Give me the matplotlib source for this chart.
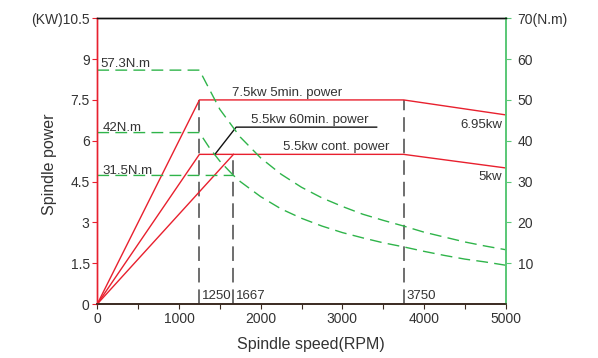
import matplotlib
matplotlib.use("Agg")
import matplotlib.pyplot as plt

plt.rcParams['font.family'] = ['Liberation Sans', 'DejaVu Sans']
plt.rcParams['lines.scale_dashes'] = False

# ---- data ----
# power curves (speed rpm, power kW)
p_max_speed = [0, 1250, 3750, 5000]
p_max_power = [0, 7.5, 7.5, 6.95]
p_cont_speed = [0, 1250, 3750, 5000]
p_cont_power = [0, 5.5, 5.5, 5.0]
p_60_speed = [0, 1667]
p_60_power = [0, 5.5]

# torque curves (speed rpm, torque N.m)
t_max_speed = [0, 1250, 1500, 1750, 2000, 2250, 2500, 2750, 3000, 3250, 3500,
               3750, 4000, 4250, 4500, 4750, 5000]
t_max_torque = [57.3, 57.3, 47.7, 40.9, 35.8, 31.8, 28.6, 26.0, 23.9, 22.0, 20.5,
                19.1, 17.6, 16.4, 15.2, 14.2, 13.3]
t_60_speed = [0, 1250, 1375, 1500, 1667]
t_60_torque = [42.0, 42.0, 38.2, 35.0, 31.5]
t_cont_speed = [0, 1667, 1750, 2000, 2250, 2500, 2750, 3000, 3250, 3500,
                3750, 4000, 4250, 4500, 4750, 5000]
t_cont_torque = [31.5, 31.5, 30.0, 26.3, 23.3, 21.0, 19.1, 17.5, 16.2, 15.0,
                 14.0, 12.9, 11.9, 11.0, 10.3, 9.5]

# leader line for 60min label
lead_speed = [1440, 1700, 3420]
lead_power = [5.5, 6.5, 6.5]

# vertical markers (speed, top power)
v_speeds = [1250, 1667, 3750]
v_tops = [7.5, 5.5, 7.5]
v_labels = ['1250', '1667', '3750']

x_ticks = [0, 1000, 2000, 3000, 4000, 5000]
y_ticks = [0, 1.5, 3, 4.5, 6, 7.5, 9, 10.5]
y_ticklabels = ['0', '1.5', '3', '4.5', '6', '7.5', '9', '(KW)10.5']
r_ticks = [10, 20, 30, 40, 50, 60, 70]
r_ticklabels = ['10', '20', '30', '40', '50', '60', '70(N.m)']

RED = '#e8202e'
GREEN = '#2fb44a'
GREEN_SPINE = '#5cc878'
GRAY = '#555555'
TXT = '#333333'

fig = plt.figure(figsize=(5.98, 3.58), dpi=100)
ax = fig.add_axes([0.1627, 0.1508, 0.6830, 0.7981])
ax2 = ax.twinx()

ax.set_xlim(0, 5000)
ax.set_ylim(0, 10.5)
ax2.set_ylim(0, 70)

# power lines
for xs, ys in [(p_max_speed, p_max_power), (p_cont_speed, p_cont_power), (p_60_speed, p_60_power)]:
    ax.plot(xs, ys, color=RED, lw=1.0, zorder=3, clip_on=False)

ax.plot(lead_speed, lead_power, color='#111111', lw=1.0, zorder=3)

# vertical dashed lines
for s, t in zip(v_speeds, v_tops):
    ax.plot([s, s], [0, t], color=GRAY, lw=1.2, linestyle=(0, (10.5, 5.0)), zorder=2)
for s, lab in zip(v_speeds, v_labels):
    ax.text(s + 30, 0.3, lab, fontsize=9.5, color=TXT, ha='left', va='center')

# torque lines
for xs, ys in [(t_max_speed, t_max_torque), (t_60_speed, t_60_torque), (t_cont_speed, t_cont_torque)]:
    ax2.plot(xs, ys, color=GREEN, lw=1.0, linestyle=(0, (8.5, 4.5)), zorder=2)

# annotations
fs = 9.5
ax.text(40, 8.6, '57.3N.m', fontsize=fs, color=TXT, ha='left', va='bottom')
ax.text(60, 6.25, '42N.m', fontsize=fs, color=TXT, ha='left', va='bottom')
ax.text(60, 4.67, '31.5N.m', fontsize=fs, color=TXT, ha='left', va='bottom')
ax.text(1650, 7.52, '7.5kw 5min. power', fontsize=fs, color=TXT, ha='left', va='bottom')
ax.text(1880, 6.55, '5.5kw 60min. power', fontsize=fs, color=TXT, ha='left', va='bottom')
ax.text(2270, 5.55, '5.5kw cont. power', fontsize=fs, color=TXT, ha='left', va='bottom')
ax.text(4960, 6.57, '6.95kw', fontsize=fs, color=TXT, ha='right', va='center')
ax.text(4960, 4.66, '5kw', fontsize=fs, color=TXT, ha='right', va='center')

# axes styling
ax.set_xticks(x_ticks)
ax.set_xticks([500, 1500, 2500, 3500, 4500], minor=True)
ax.set_yticks(y_ticks)
ax.set_yticklabels(y_ticklabels)
ax2.set_yticks(r_ticks)
ax2.set_yticklabels(r_ticklabels)

ax.tick_params(axis='x', which='both', direction='out', length=3.5, width=0.8,
               colors='#3a2a20', labelcolor=TXT, labelsize=10, pad=2)
ax.tick_params(axis='y', direction='out', length=3.5, width=0.8, color=RED,
               labelcolor=TXT, labelsize=10, pad=2)
ax2.tick_params(axis='y', direction='out', length=3.5, width=0.8, color=GREEN_SPINE,
                labelcolor=TXT, labelsize=10, pad=5)

for a in (ax, ax2):
    a.spines['left'].set_color(RED)
    a.spines['right'].set_color(GREEN_SPINE)
    a.spines['top'].set_color('#111111')
    a.spines['bottom'].set_color('#3a2a20')
    a.spines['left'].set_linewidth(1.0)
    a.spines['right'].set_linewidth(1.3)
    a.spines['top'].set_linewidth(1.0)
    a.spines['bottom'].set_linewidth(1.2)

ax.set_xlabel('Spindle speed(RPM)', fontsize=11.5, color=TXT)
ax.xaxis.set_label_coords(0.522, -0.115)
ax.set_ylabel('Spindle power', fontsize=11.5, color=TXT)
ax.yaxis.set_label_coords(-0.099, 0.49)

fig.savefig('out.png', dpi=100)
